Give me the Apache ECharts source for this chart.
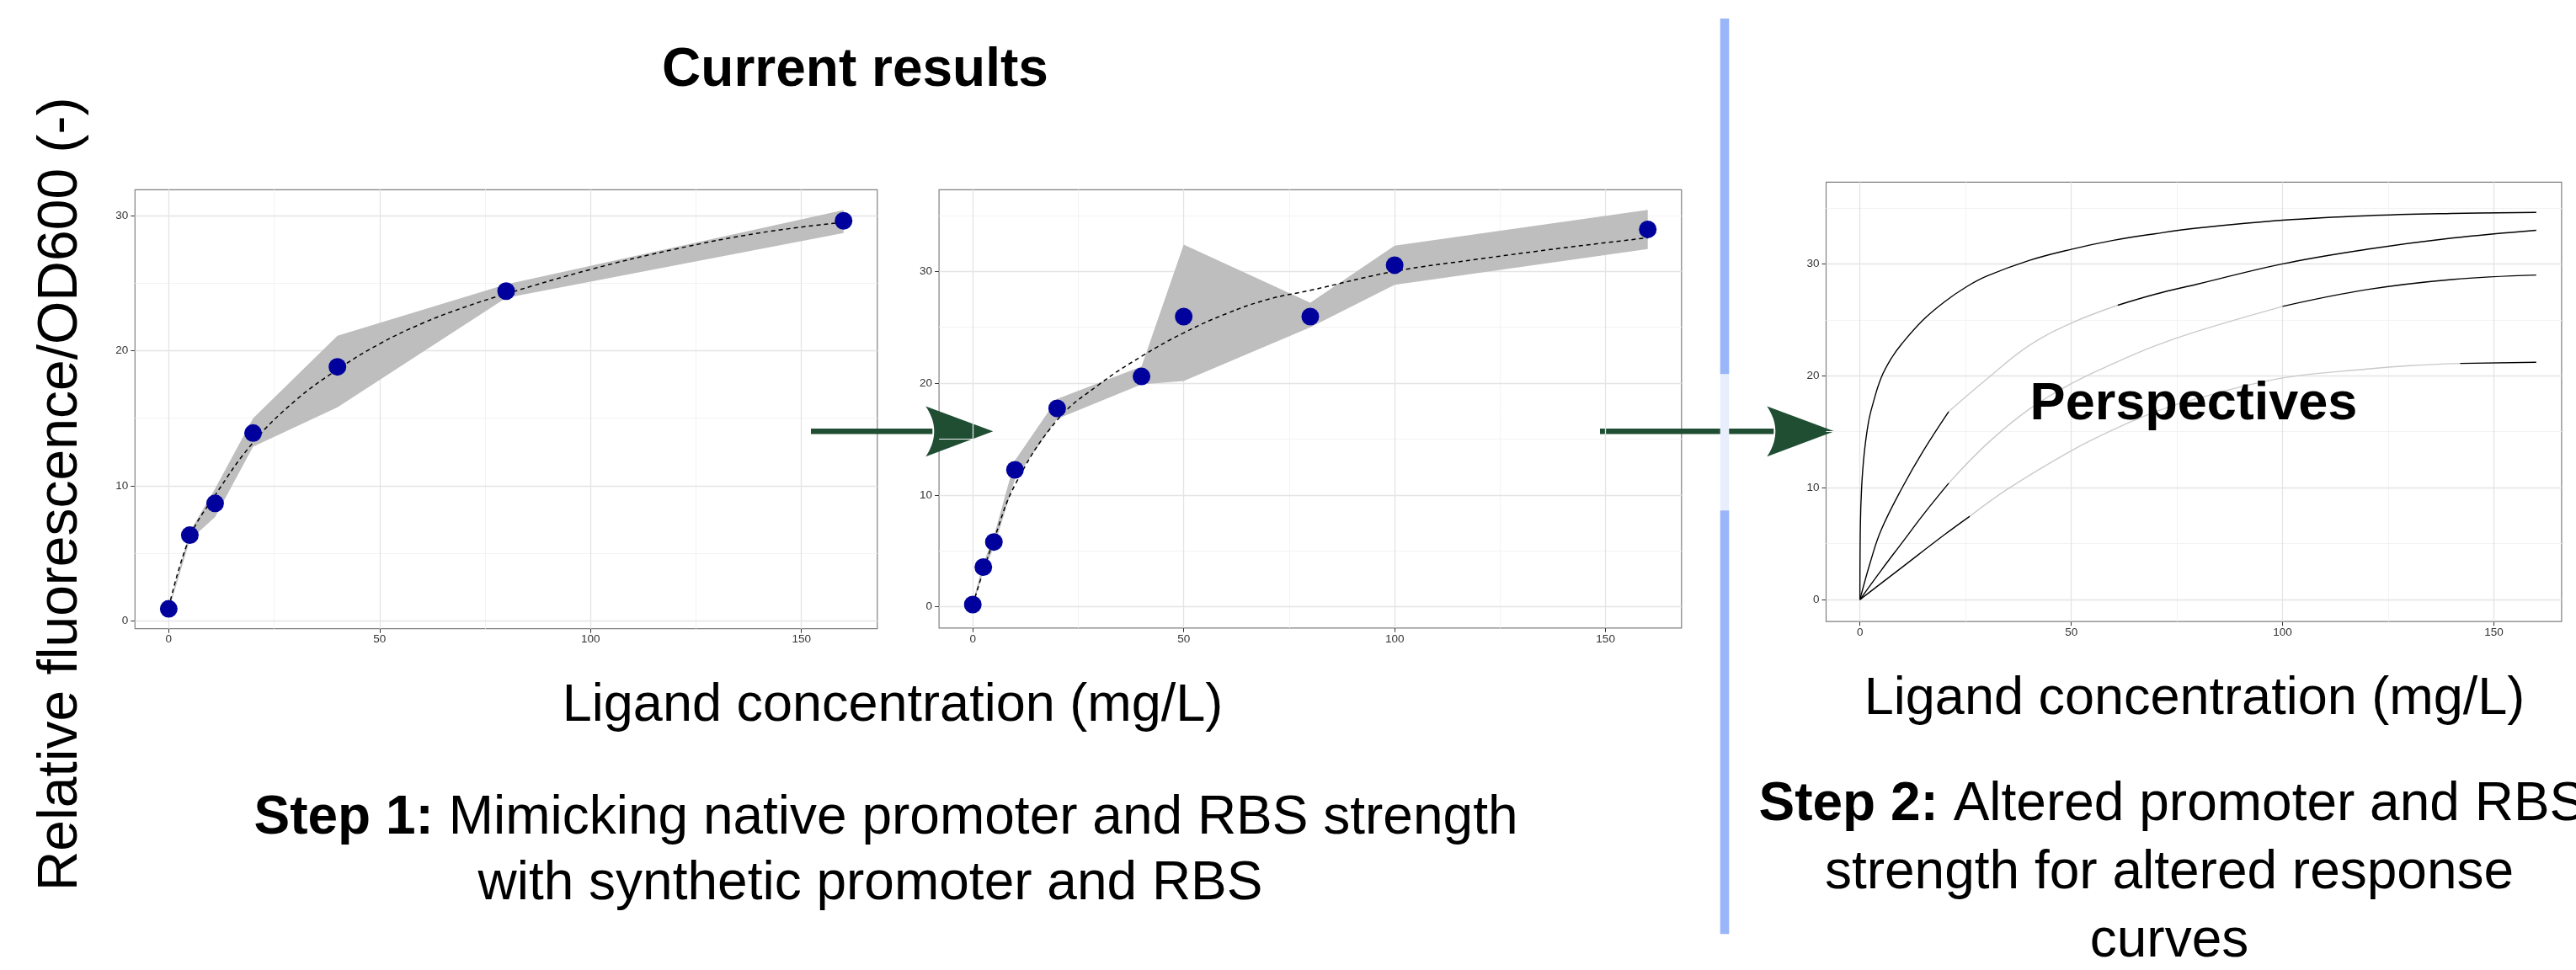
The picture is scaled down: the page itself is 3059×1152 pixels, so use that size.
<!DOCTYPE html>
<html>
<head>
<meta charset="utf-8">
<script src="https://cdn.jsdelivr.net/npm/echarts@6/dist/echarts.min.js"></script>
<style>
  html, body { margin: 0; padding: 0; background: #ffffff; }
  #chart { width: 3059px; height: 1152px; }
</style>
</head>
<body>
<div id="chart"></div>
<script>
// ---------- axis ticks ----------
const xTicks = [0, 50, 100, 150];
const xMinorTicks = [25, 75, 125];
const yTicks = [0, 10, 20, 30];
const yMinorTicks1 = [5, 15, 25];
const yMinorTicks23 = [5, 15, 25, 35];

// ---------- panel 1: native promoter / RBS ----------
const conc1 = [0, 5, 11, 20, 40, 80, 160];
const fluo1 = [0.9, 6.35, 8.7, 13.9, 18.8, 24.4, 29.6];
const fluo1Upper = [1.0, 6.6, 9.8, 15.0, 21.1, 24.9, 30.4];
const fluo1Lower = [0.8, 6.0, 7.7, 12.9, 15.8, 23.9, 28.7];
const fit1Conc = [0, 5, 11, 20, 30, 40, 50, 60, 70, 80, 100, 120, 140, 160];
const fit1Fluo = [1.0, 6.2, 9.3, 13.2, 16.3, 18.6, 20.5, 22.0, 23.2, 24.2, 26.0, 27.5, 28.7, 29.5];

// ---------- panel 2: synthetic promoter / RBS ----------
const conc2 = [0, 2.5, 5, 10, 20, 40, 50, 80, 100, 160];
const fluo2 = [0.2, 3.55, 5.8, 12.25, 17.75, 20.6, 25.95, 25.95, 30.55, 33.75];
const fluo2Upper = [0.4, 3.9, 6.3, 13.1, 18.6, 21.5, 32.4, 27.2, 32.3, 35.5];
const fluo2Lower = [0.0, 3.2, 5.3, 11.4, 16.8, 19.9, 20.2, 25.0, 28.8, 32.0];
const fit2Conc = [0, 2.5, 5, 10, 20, 30, 40, 50, 60, 70, 80, 100, 120, 140, 160];
const fit2Fluo = [0.2, 3.2, 6.0, 10.9, 16.7, 19.9, 22.4, 24.5, 26.2, 27.5, 28.3, 30.0, 31.1, 32.1, 33.0];

// ---------- panel 3: prospective response curves ----------
const curve1Conc = [0, 0.1, 0.4, 1, 2, 3, 5, 7.5, 10, 15, 20, 25, 30, 40, 50, 60, 70, 80, 100, 120, 140, 160];
const curve1Fluo = [0, 6.5, 10, 13, 15.8, 17.4, 19.8, 21.6, 22.9, 25.0, 26.6, 27.9, 28.9, 30.3, 31.3, 32.1, 32.7, 33.2, 33.9, 34.3, 34.5, 34.6];
const curve2Conc = [0, 2.5, 5, 10, 15, 21, 30, 40, 50, 61, 70, 80, 100, 120, 140, 160];
const curve2Fluo = [0, 3.4, 6.2, 10.0, 13.3, 16.8, 19.7, 22.7, 24.7, 26.3, 27.3, 28.2, 30.0, 31.3, 32.3, 33.0];
const curve3Conc = [0, 5, 10, 15, 21, 30, 40, 50, 60, 70, 80, 100, 120, 140, 160];
const curve3Fluo = [0, 2.6, 5.1, 7.6, 10.4, 13.9, 17.0, 19.3, 21.1, 22.7, 24.0, 26.2, 27.7, 28.6, 29.0];
const curve4Conc = [0, 10, 20, 26, 35, 50, 60, 70, 80, 100, 120, 130, 142, 160];
const curve4Fluo = [0, 2.9, 5.8, 7.45, 9.9, 13.3, 15.2, 16.8, 18.0, 19.8, 20.6, 20.9, 21.1, 21.2];
// concentration span over which each curve is faded
const curve1Faded = null;
const curve2Faded = [21, 61];
const curve3Faded = [21, 100];
const curve4Faded = [26, 142];

// ---------- styling ----------
const FONT = '"Liberation Sans", Arial, Helvetica, sans-serif';
const GREEN = '#1f4e33';
const POINT = '#00009c';
const RIBBON = '#bebebe';
const SMOOTH = 0.4;

const panels = [
  { left: 160.3, top: 225.3, right: 1041.8, bottom: 746.7, xMin: -8, xMax: 168, yMin: -0.57, yMax: 31.9, yMinor: yMinorTicks1 },
  { left: 1115.1, top: 225.3, right: 1996.8, bottom: 745.8, xMin: -8, xMax: 168, yMin: -1.89, yMax: 37.3, yMinor: yMinorTicks23 },
  { left: 2168.5, top: 216.3, right: 3041.9, bottom: 738.2, xMin: -8, xMax: 166, yMin: -1.96, yMax: 37.3, yMinor: yMinorTicks23 }
];

const tickLabel = { color: '#333333', fontSize: 13.5, fontFamily: FONT };

const grids = panels.map(p => ({
  left: p.left, top: p.top, width: p.right - p.left, height: p.bottom - p.top,
  show: true, borderColor: '#808080', borderWidth: 1.2, backgroundColor: '#ffffff',
  containLabel: false
}));

const xAxes = panels.map((p, i) => ({
  type: 'value', gridIndex: i, min: p.xMin, max: p.xMax,
  axisLine: { show: false, onZero: false },
  axisTick: { show: true, length: 5, customValues: xTicks, lineStyle: { color: '#333333', width: 1 } },
  axisLabel: Object.assign({ customValues: xTicks, margin: 6 }, tickLabel),
  splitLine: { show: false }
}));

const yAxes = panels.map((p, i) => ({
  type: 'value', gridIndex: i, min: p.yMin, max: p.yMax,
  axisLine: { show: false, onZero: false },
  axisTick: { show: true, length: 5, customValues: yTicks, lineStyle: { color: '#333333', width: 1 } },
  axisLabel: Object.assign({ customValues: yTicks, margin: 8 }, tickLabel),
  splitLine: { show: false }
}));

// panel grid lines (major and minor), drawn beneath the data
function gridLines(yMinor) {
  const major = { color: '#e4e4e4', width: 1.3, type: 'solid' };
  const minor = { color: '#f3f3f3', width: 1, type: 'solid' };
  const data = []
    .concat(xMinorTicks.map(v => ({ xAxis: v, lineStyle: minor })))
    .concat(yMinor.map(v => ({ yAxis: v, lineStyle: minor })))
    .concat(xTicks.map(v => ({ xAxis: v, lineStyle: major })))
    .concat(yTicks.map(v => ({ yAxis: v, lineStyle: major })));
  return { silent: true, symbol: ['none', 'none'], label: { show: false }, z: 1, animation: false, data };
}

function pairs(xs, ys) { return xs.map((x, i) => [x, ys[i]]); }

function ribbon(g, xs, lo, hi) {
  return {
    type: 'custom', xAxisIndex: g, yAxisIndex: g, silent: true, z: 2, clip: true,
    data: [[xs[0], lo[0]]],
    renderItem(params, api) {
      const pts = [];
      for (let i = 0; i < xs.length; i++) pts.push(api.coord([xs[i], hi[i]]));
      for (let i = xs.length - 1; i >= 0; i--) pts.push(api.coord([xs[i], lo[i]]));
      return { type: 'polygon', shape: { points: pts }, style: { fill: RIBBON } };
    }
  };
}

function fitLine(g, xs, ys, yMinor) {
  return {
    type: 'line', xAxisIndex: g, yAxisIndex: g, data: pairs(xs, ys),
    smooth: SMOOTH, showSymbol: false, symbol: 'none', silent: true, z: 3,
    lineStyle: { color: '#000000', width: 1.5, type: [5, 4] },
    markLine: gridLines(yMinor)
  };
}

function points(g, xs, ys) {
  return {
    type: 'scatter', xAxisIndex: g, yAxisIndex: g, data: pairs(xs, ys),
    symbolSize: 21, itemStyle: { color: POINT, opacity: 1 }, silent: true, z: 4
  };
}

// split a curve into dark and faded stretches
function curveSeries(g, xs, ys, faded) {
  const parts = [];
  if (!faded) {
    parts.push({ pts: pairs(xs, ys), color: '#000000' });
  } else {
    const [a, b] = faded;
    const sel = f => pairs(xs, ys).filter(p => f(p[0]));
    parts.push({ pts: sel(x => x <= a), color: '#000000' });
    parts.push({ pts: sel(x => x >= a && x <= b), color: '#cacaca' });
    parts.push({ pts: sel(x => x >= b), color: '#000000' });
  }
  return parts.map(part => ({
    type: 'line', xAxisIndex: g, yAxisIndex: g, data: part.pts,
    smooth: SMOOTH, showSymbol: false, symbol: 'none', silent: true, z: 3,
    lineStyle: { color: part.color, width: 1.4 }
  }));
}

const series = [
  ribbon(0, conc1, fluo1Lower, fluo1Upper),
  fitLine(0, fit1Conc, fit1Fluo, panels[0].yMinor),
  points(0, conc1, fluo1),
  ribbon(1, conc2, fluo2Lower, fluo2Upper),
  fitLine(1, fit2Conc, fit2Fluo, panels[1].yMinor),
  points(1, conc2, fluo2)
];
const p3 = []
  .concat(curveSeries(2, curve1Conc, curve1Fluo, curve1Faded))
  .concat(curveSeries(2, curve2Conc, curve2Fluo, curve2Faded))
  .concat(curveSeries(2, curve3Conc, curve3Fluo, curve3Faded))
  .concat(curveSeries(2, curve4Conc, curve4Fluo, curve4Faded));
p3[0].markLine = gridLines(panels[2].yMinor);
series.push(...p3);

// ---------- annotations ----------
function label(x, y, text, size, opts) {
  opts = opts || {};
  const align = opts.align || 'center';
  return {
    type: 'text', x, y, rotation: opts.rotation || 0, silent: true, z: 100,
    style: {
      text, fill: '#000000',
      font: (opts.bold ? 'bold ' : '') + size + 'px ' + FONT,
      fontSize: size, fontFamily: FONT, fontWeight: opts.bold ? 'bold' : 'normal',
      align, verticalAlign: 'middle', textAlign: align, textVerticalAlign: 'middle',
      rich: opts.rich
    }
  };
}

const richBold = { b: { fontWeight: 'bold', fontSize: 64, fontFamily: FONT, fill: '#000000' } };

// arrow with a straight shaft and a concave-backed head
function arrow(x0, tipX, y) {
  const backX = tipX - 80;
  const head = [[tipX, y], [backX, y - 29.7]];
  // concave back edge, sampled from a quadratic curve
  const c = [backX + 20, y];
  const p0 = [backX, y - 29.7], p2 = [backX, y + 30];
  for (let k = 1; k < 20; k++) {
    const t = k / 20, u = 1 - t;
    head.push([u * u * p0[0] + 2 * u * t * c[0] + t * t * p2[0], u * u * p0[1] + 2 * u * t * c[1] + t * t * p2[1]]);
  }
  head.push(p2);
  return {
    type: 'group', silent: true, z: 110,
    children: [
      { type: 'rect', shape: { x: x0, y: y - 3.2, width: backX + 8 - x0, height: 6.4 }, style: { fill: GREEN } },
      { type: 'polygon', shape: { points: head }, style: { fill: GREEN } }
    ]
  };
}

const graphic = [
  // divider between current results and perspectives
  { type: 'rect', silent: true, z: 50, shape: { x: 2042.7, y: 22, width: 10.6, height: 422.5 }, style: { fill: '#99b6f9' } },
  { type: 'rect', silent: true, z: 50, shape: { x: 2042.7, y: 444.5, width: 10.6, height: 161.7 }, style: { fill: '#e8eefc' } },
  { type: 'rect', silent: true, z: 50, shape: { x: 2042.7, y: 606.2, width: 10.6, height: 503 }, style: { fill: '#99b6f9' } },
  arrow(963, 1179.3, 512.2),
  arrow(1900, 2178.3, 512.2),
  label(1015.5, 84.8, 'Current results', 64, { bold: true }),
  label(2605, 480.5, 'Perspectives', 63, { bold: true }),
  label(72.7, 587, 'Relative fluorescence/OD600 (-)', 66, { rotation: Math.PI / 2 }),
  label(1060, 838.2, 'Ligand concentration (mg/L)', 63),
  label(2606, 831, 'Ligand concentration (mg/L)', 63),
  label(1052, 972.8, '{b|Step 1:} Mimicking native promoter and RBS strength', 64, { rich: richBold }),
  label(1033.5, 1050.8, 'with synthetic promoter and RBS', 64),
  label(2088.5, 956.8, '{b|Step 2:} Altered promoter and RBS', 64, { rich: richBold, align: 'left' }),
  label(2576, 1037.8, 'strength for altered response', 64),
  label(2576, 1118.8, 'curves', 64)
];

const chart = echarts.init(document.getElementById('chart'), null, { renderer: 'canvas', width: 3059, height: 1152 });
chart.setOption({
  animation: false,
  backgroundColor: '#ffffff',
  grid: grids,
  xAxis: xAxes,
  yAxis: yAxes,
  series,
  graphic
});
</script>
</body>
</html>
